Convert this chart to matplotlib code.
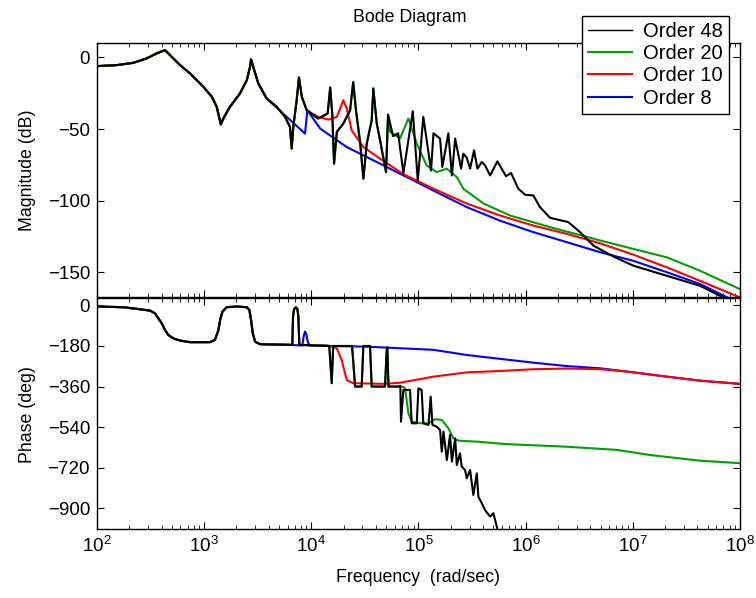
import matplotlib
matplotlib.use("Agg")
import matplotlib.pyplot as plt
from matplotlib.lines import Line2D
from matplotlib.ticker import LogLocator, NullFormatter

plt.rcParams['font.family'] = ['Liberation Sans', 'DejaVu Sans']

# magnitude (dB), frequency in rad/sec
mag48_w = [1.0e2, 1.53e2, 2.18e2, 2.91e2, 3.61e2, 4.31e2, 5.96e2, 7.38e2, 9.82e2, 1.18e3,
           1.31e3, 1.43e3, 1.51e3, 1.74e3, 2.16e3, 2.5e3, 2.68e3, 2.74e3, 2.87e3, 3.2e3,
           3.83e3, 4.75e3, 5.69e3, 6.32e3, 6.56e3, 6.79e3, 7.3e3, 7.67e3, 8.15e3, 9.06e3,
           1.16e4, 1.42e4, 1.5e4, 1.57e4, 1.63e4, 1.73e4, 1.99e4, 2.3e4, 2.46e4, 2.61e4,
           2.85e4, 3.06e4, 3.29e4, 3.66e4, 3.79e4, 4.08e4, 4.38e4, 4.98e4, 5.2e4, 5.79e4,
           6.46e4, 7.23e4, 8.85e4, 9.85e4, 1.11e5, 1.31e5, 1.38e5, 1.59e5, 1.67e5, 1.9e5,
           2.05e5, 2.2e5, 2.5e5, 2.62e5, 2.82e5, 3.03e5, 3.3e5, 3.55e5, 3.9e5, 4.18e5,
           4.66e5, 5.45e5, 6.56e5, 7.31e5, 8.55e5, 9.88e5, 1.18e6, 1.36e6, 1.69e6, 2.5e6,
           3.22e6, 4.29e6, 6.59e6, 1.01e7, 2.08e7, 4.25e7, 8.1e7, 1e8]
mag48_db = [-6.1, -5.4, -3.8, -0.7, 2.8, 5.1, -5.4, -11.2, -20.5, -27.5,
            -34.5, -46.8, -42.7, -34.5, -25.2, -15.9, -6.6, -1.4, -6.6, -18.2,
            -28.7, -34.5, -41.5, -48.5, -63.7, -48.5, -29.9, -14, -27.5, -36.9,
            -42.7, -39.2, -21, -40, -74.2, -52, -46.2, -36.9, -17.2, -36.9,
            -59, -84.7, -60.2, -43.9, -21.7, -46.2, -57.9, -80.1, -40, -55,
            -53, -80.7, -37.6, -86, -41.5, -79, -53, -56.7, -76.5, -53,
            -82.4, -56.7, -77.7, -67.2, -70, -77.7, -64.9, -77.7, -73, -75.4,
            -82.4, -72.6, -83, -80.7, -91.7, -95.9, -96.4, -104.5, -112, -115,
            -122, -131.4, -139, -145.4, -152.5, -159.5, -170, -174]

mag20_w = mag48_w[:49] + [5.43e4, 6.73e4, 8.05e4, 9.64e4, 1.19e5, 1.48e5, 1.84e5, 2.28e5, 2.62e5,
                          4.04e5, 7.16e5, 1.69e6, 4.95e6, 1.01e7, 2.08e7, 4.25e7, 1e8]
mag20_db = mag48_db[:49] + [-52, -56.6, -42.7, -60.2, -75.4, -80.1, -77.7, -83.6, -91.7,
                            -102, -110.4, -118.5, -127.8, -133.7, -139.6, -149, -161.8]

mag10_w = mag48_w[:30] + [1.16e4, 1.44e4, 1.73e4, 1.99e4, 2.14e4, 2.38e4, 3.06e4, 4.38e4, 7.23e4,
                          1.38e5, 2.82e5, 5.77e5, 1.18e6, 2.42e6, 4.95e6, 1.01e7, 2.08e7, 4.25e7, 1e8]
mag10_db = mag48_db[:30] + [-41.6, -43.4, -41.6, -29.9, -35.7, -50.9, -62.6, -70.7, -81.5,
                            -91.7, -102, -110.4, -117.4, -123.2, -129.8, -137.7, -146.6, -156, -167.6]

mag8_w = mag48_w[:21] + [8.73e3, 9.18e3, 1.21e4, 2.14e4, 4.38e4, 7.23e4, 1.38e5, 2.82e5, 5.77e5,
                         1.18e6, 2.42e6, 4.95e6, 1.01e7, 2.08e7, 4.25e7, 1e8]
mag8_db = mag48_db[:21] + [-53.2, -36.9, -49.7, -62.6, -74.2, -82.4, -93, -104.5, -114,
                           -122, -129, -136, -142, -150, -158.2, -172]

# phase (deg)
ph48_w = [1e2, 1.76e2, 2.51e2, 3.12e2, 3.48e2, 3.73e2, 4.02e2, 4.31e2, 4.63e2, 5.15e2,
          5.96e2, 7.38e2, 1.13e3, 1.26e3, 1.36e3, 1.41e3, 1.48e3, 1.62e3, 2.01e3, 2.5e3,
          2.64e3, 2.74e3, 2.84e3, 2.99e3, 3.32e3, 6.32e3, 6.65e3, 6.75e3, 6.9e3, 7.16e3,
          7.42e3, 7.57e3, 7.73e3, 1.47e4, 1.55e4, 1.6e4, 2.4e4, 2.48e4, 2.56e4, 2.95e4,
          3.06e4, 3.53e4, 3.66e4, 4.87e4, 5.05e4, 5.12e4, 5.25e4, 6.46e4, 6.77e4, 6.87e4,
          7.23e4, 8.34e4, 8.65e4, 9.64e4, 9.98e4, 1.07e5, 1.11e5, 1.24e5, 1.3e5, 1.35e5,
          1.48e5, 1.59e5, 1.65e5, 1.71e5, 1.84e5, 1.97e5, 2.05e5, 2.2e5, 2.28e5, 2.44e5,
          2.53e5, 2.72e5, 2.82e5, 3.03e5, 3.25e5, 3.5e5, 3.62e5, 3.9e5, 4.18e5, 4.66e5,
          5.0e5, 5.38e5, 5.77e5, 6.5e5]
ph48_deg = [-5, -8, -17, -23, -35, -57, -79, -109, -131, -146,
            -156, -163, -163, -153, -109, -64, -28, -8, -5, -8,
            -20, -64, -123, -161, -172, -175, -175, -50, -17, -8,
            -17, -50, -175, -180, -345, -180, -180, -270, -360, -360,
            -180, -180, -360, -360, -200, -185, -360, -360, -357, -516,
            -375, -375, -523, -523, -368, -375, -523, -530, -405, -530,
            -538, -553, -649, -560, -686, -575, -693, -590, -708, -656,
            -715, -730, -767, -730, -841, -745, -849, -878, -908, -937,
            -922, -982, -1040, -1100]

ph20_w = ph48_w[:48] + [7.23e4, 7.5e4, 8.05e4, 8.65e4, 1.04e5, 1.24e5, 1.43e5, 1.65e5, 1.9e5,
                        2.12e5, 2.36e5, 3.62e5, 6.43e5, 2.42e6, 7.1e6, 1.46e7, 4.25e7, 1e8]
ph20_deg = ph48_deg[:48] + [-362, -368, -478, -516, -523, -523, -505, -508, -545,
                            -590, -600, -605, -615, -627, -641, -664, -689, -700]

ph10_w = ph48_w[:33] + [1.39e4, 1.73e4, 1.92e4, 2.14e4, 2.46e4, 4.7e4, 6.73e4, 1.38e5, 2.82e5,
                        5.77e5, 1.18e6, 2.42e6, 4.95e6, 7.1e6, 1.01e7, 2.08e7, 4.25e7, 1e8]
ph10_deg = ph48_deg[:33] + [-178, -190, -242, -331, -345, -348, -343, -316, -297,
                            -291, -283, -280, -283, -289, -297, -316, -334, -348]

ph8_w = ph48_w[:26] + [8.24e3, 8.5e3, 8.73e3, 9.0e3, 9.3e3, 9.73e3, 3.29e4, 1.38e5, 2.82e5,
                       5.77e5, 1.18e6, 2.42e6, 4.95e6, 1.01e7, 2.08e7, 4.25e7, 1e8]
ph8_deg = ph48_deg[:26] + [-178, -135, -116, -130, -165, -178, -183, -197, -220,
                           -237, -254, -269, -279, -297, -316, -334, -348]

labels = ['Order 48', 'Order 20', 'Order 10', 'Order 8']
colors = ['#000000', '#00a000', '#ff0000', '#0000ff']

fig = plt.figure(figsize=(7.56, 5.98), dpi=100)
ax1 = fig.add_axes([0.1283, 0.5033, 0.8505, 0.4247])
ax2 = fig.add_axes([0.1283, 0.1154, 0.8505, 0.3863])

mags = [(mag48_w, mag48_db), (mag20_w, mag20_db), (mag10_w, mag10_db), (mag8_w, mag8_db)]
phs = [(ph48_w, ph48_deg), (ph20_w, ph20_deg), (ph10_w, ph10_deg), (ph8_w, ph8_deg)]

# draw black last so it sits on top
for i in [3, 2, 1, 0]:
    ax1.plot(mags[i][0], mags[i][1], color=colors[i], lw=1.5)
    ax2.plot(phs[i][0], phs[i][1], color=colors[i], lw=1.5)

for ax in [ax1, ax2]:
    ax.set_xscale('log')
    ax.set_xlim(1e2, 1e8)
    ax.xaxis.set_major_locator(LogLocator(base=10, numticks=20))
    ax.xaxis.set_minor_locator(LogLocator(base=10, subs=range(2, 10), numticks=100))
    ax.xaxis.set_minor_formatter(NullFormatter())
    ax.tick_params(which='both', direction='in', top=True, right=True, labelsize=13.5, pad=5)
    ax.tick_params(which='major', length=5, width=0.8)
    ax.tick_params(which='minor', length=3, width=0.6)
    for s in ax.spines.values():
        s.set_linewidth(1.0)

ax1.set_ylim(-167.3, 10)
ax1.set_yticks([0, -50, -100, -150])
ax1.tick_params(labelbottom=False)

ax2.set_ylim(-992, 33)
ax2.set_yticks([0, -180, -360, -540, -720, -900])

fig.text(410 / 756, 1 - 17 / 598, 'Bode Diagram', ha='center', va='center', fontsize=12.8)
fig.text(27 / 756, 1 - 170 / 598, 'Magnitude (dB)', rotation=90, ha='center', va='center', fontsize=12.8)
fig.text(27 / 756, 1 - 415 / 598, 'Phase (deg)', rotation=90, ha='center', va='center', fontsize=12.8)
fig.text(418 / 756, 1 - 578 / 598, 'Frequency  (rad/sec)', ha='center', va='center', fontsize=12.8)

handles = [Line2D([], [], color=colors[0], lw=1.0)] + \
          [Line2D([], [], color=c, lw=1.5) for c in colors[1:]]
leg = fig.legend(handles, labels, loc='upper right', bbox_to_anchor=(729 / 756, 1 - 16 / 598),
                 fontsize=14.5, frameon=True, fancybox=False, framealpha=1, edgecolor='black',
                 borderpad=0.3, handlelength=2.2, handletextpad=0.55, labelspacing=0.16,
                 borderaxespad=0)
leg.get_frame().set_linewidth(1.0)

fig.savefig('out.png', dpi=100)
